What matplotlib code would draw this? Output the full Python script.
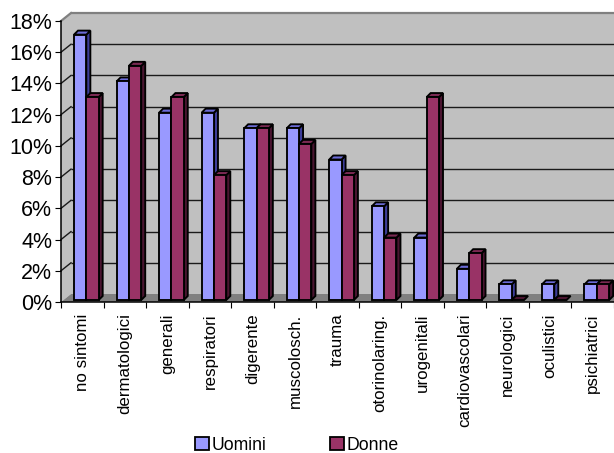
import matplotlib
matplotlib.use("Agg")
import matplotlib.pyplot as plt
from matplotlib.patches import Polygon, Patch

plt.rcParams['font.family'] = ['Liberation Sans', 'DejaVu Sans']

categories = ["no sintomi", "dermatologici", "generali", "respiratori", "digerente",
              "muscolosch.", "trauma", "otorinolaring.", "urogenitali",
              "cardiovascolari", "neurologici", "oculistici", "psichiatrici"]
uomini = [17, 14, 12, 12, 11, 11, 9, 6, 4, 2, 1, 1, 1]
donne = [13, 15, 13, 8, 11, 10, 8, 4, 13, 3, 0, 0, 1]
yticks = [0, 2, 4, 6, 8, 10, 12, 14, 16, 18]
series_names = ["Uomini", "Donne"]

W, H, DPI = 614, 453, 100
fig = plt.figure(figsize=(W / DPI, H / DPI), dpi=DPI)
fig.patch.set_facecolor("white")

# axes frame in pixels: left 61, right 614, baseline 302, 18% at 21
L, R, B0, T0 = 61, 614, 302, 21
ax = fig.add_axes([L / W, (H - B0) / H, (R - L) / W, (B0 - T0) / H])
n = len(categories)
ax.set_xlim(-0.5, n - 0.5)
ax.set_ylim(0, 18)
px_x = (R - L) / n
px_y = (B0 - T0) / 18.0

# depth of walls and bars (pixel offsets converted to data units)
WX, WY = 10 / px_x, 8 / px_y
BX, BY = 4 / px_x, 4 / px_y
BASE = 2 / px_y

wall_c = "#c0c0c0"
x_left = -0.5
x_right = n + 0.5

# back wall
ax.add_patch(Polygon([(x_left + WX, WY), (x_right, WY), (x_right, 18 + WY), (x_left + WX, 18 + WY)],
                     closed=True, facecolor=wall_c, edgecolor="none", zorder=0, clip_on=False))
# side wall
ax.add_patch(Polygon([(x_left, 0), (x_left, 18), (x_left + WX, 18 + WY), (x_left + WX, WY)],
                     closed=True, facecolor=wall_c, edgecolor="none", zorder=0, clip_on=False))
# floor
ax.add_patch(Polygon([(x_left, 0), (x_left + WX, WY), (x_right, WY), (x_right, 0)],
                     closed=True, facecolor="#808080", edgecolor="none", zorder=0.5, clip_on=False))

# gridlines on the back and side walls
for t in yticks:
    if t == 0:
        continue
    col = "#808080" if t == 18 else "#1a1a1a"
    lw = 1.6 if t == 18 else 1.0
    ax.plot([x_left + WX, x_right], [t + WY, t + WY], color=col, lw=lw, zorder=0.6,
            clip_on=False, solid_capstyle="butt")
    ax.plot([x_left, x_left + WX], [t, t + WY], color=col, lw=lw, zorder=0.6, clip_on=False)

bar_w = 0.29
offsets = [-0.194, -0.194 + bar_w]
styles = [
    {"front": "#9999ff", "top": "#6b6bd6", "side": "#3d3d99"},
    {"front": "#993366", "top": "#7a2952", "side": "#4a1530"},
]


def draw_bar(x0, v, st, z):
    y0 = BASE
    y1 = BASE + v
    side = [(x0 + bar_w, y0), (x0 + bar_w + BX, y0 + BY), (x0 + bar_w + BX, y1 + BY), (x0 + bar_w, y1)]
    top = [(x0, y1), (x0 + bar_w, y1), (x0 + bar_w + BX, y1 + BY), (x0 + BX, y1 + BY)]
    kw = dict(closed=True, edgecolor="black", lw=1.35, joinstyle="miter", clip_on=False)
    if v > 0:
        ax.add_patch(Polygon(side, facecolor=st["side"], zorder=z, **kw))
    ax.add_patch(Polygon(top, facecolor=st["top"] if v > 0 else st["side"], zorder=z, **kw))
    if v > 0:
        ax.add_patch(Polygon([(x0, y0), (x0 + bar_w, y0), (x0 + bar_w, y1), (x0, y1)],
                             facecolor=st["front"], zorder=z, **kw))


z = 2
for i in range(n):
    for s, vals in enumerate([uomini, donne]):
        draw_bar(i + offsets[s], vals[i], styles[s], z)
        z += 0.01

# axes lines and ticks
for sp in ["top", "right"]:
    ax.spines[sp].set_visible(False)
for sp in ["left", "bottom"]:
    ax.spines[sp].set_color("black")
    ax.spines[sp].set_linewidth(1.1)
    ax.spines[sp].set_zorder(5)
ax.spines["bottom"].set_bounds(-0.5, n + 1)

ax.set_yticks(yticks)
ax.set_yticklabels([f"{t}%" for t in yticks])
ax.tick_params(axis="y", length=4.3, width=0.8, pad=2.0, labelsize=15.5, colors="black")

ax.set_xticks(range(n))
ax.set_xticklabels(categories, rotation=90, va="top", ha="center")
ax.set_xticks([i - 0.5 for i in range(n + 1)], minor=True)
ax.tick_params(axis="x", which="major", length=0, pad=8.2, labelsize=12.2)
ax.tick_params(axis="x", which="minor", length=4.3, width=0.8)
ax.set_facecolor("none")

handles = [Patch(facecolor=styles[0]["front"], edgecolor="black", lw=1.3),
           Patch(facecolor=styles[1]["front"], edgecolor="black", lw=1.3)]
fig.legend(handles, series_names, loc="center", bbox_to_anchor=(297 / W, 1 - 445 / H),
           ncol=2, frameon=False, fontsize=12.7, handlelength=0.8, handleheight=0.8,
           handletextpad=0.15, columnspacing=3.6, borderpad=0, borderaxespad=0)

fig.savefig("out.png", dpi=DPI)
